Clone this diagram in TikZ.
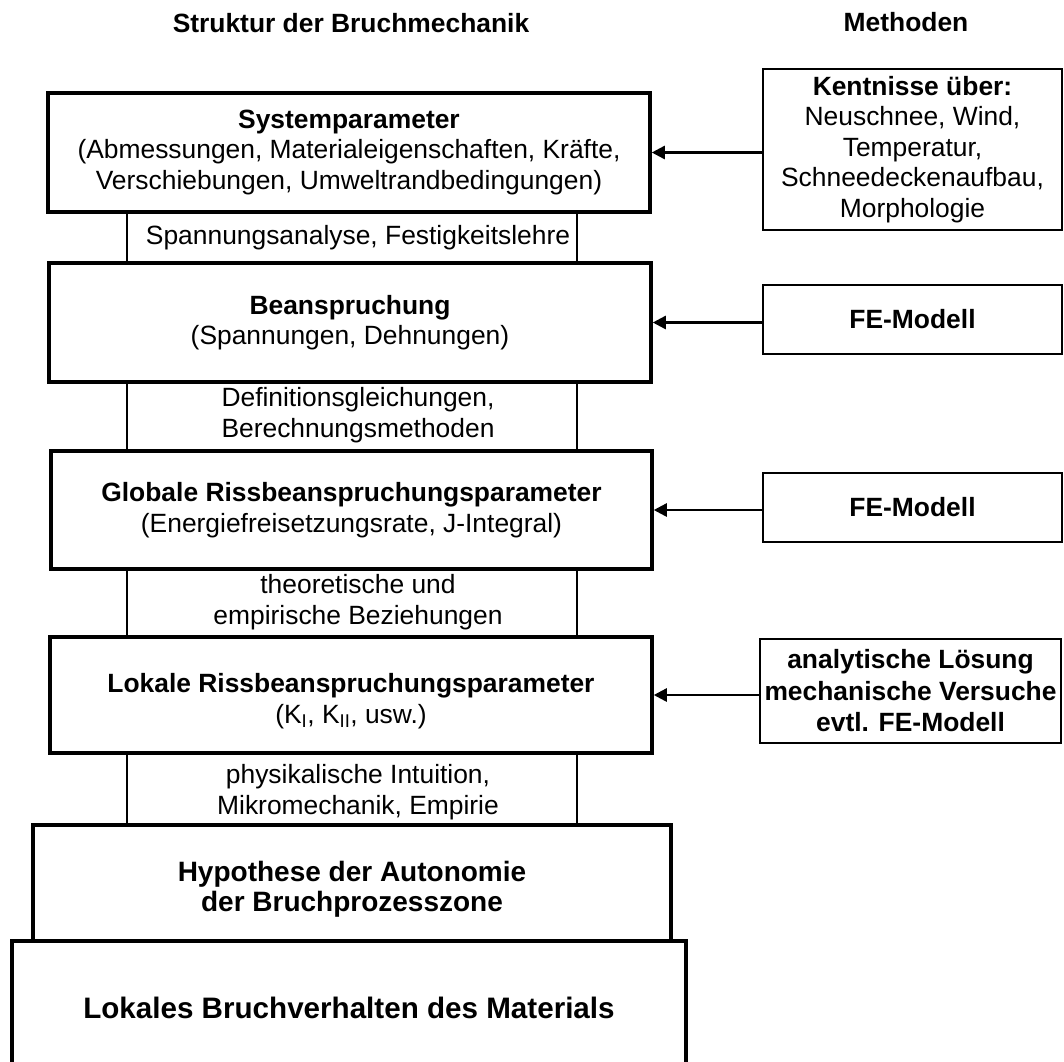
\documentclass[tikz,border=0pt]{standalone}
\usepackage{fontspec}
\setmainfont{Liberation Sans}
\usetikzlibrary{arrows.meta}
\begin{document}
\begin{tikzpicture}[x=1pt,y=-1pt,
  txt/.style={font=\fontsize{26.4}{30.5}\selectfont, align=center, inner sep=0pt},
  ttl/.style={font=\fontsize{26.4}{30.5}\selectfont\bfseries, inner sep=0pt},
  lbox/.style={draw, line width=3.5pt, inner sep=0pt, align=center, font=\fontsize{26.4}{30.5}\selectfont},
  rbox/.style={draw, line width=2.3pt, inner sep=0pt, align=center, font=\fontsize{26.4}{30.5}\selectfont},
  conn/.style={line width=1.3pt},
  arr/.style={line width=2.5pt, -{Triangle[length=13pt,width=13pt]}}]
\useasboundingbox (0,0) rectangle (1064,1061);
\fill[white] (0,0) rectangle (1064,1061);
\clip (0,0) rectangle (1064,1061);

% titles
\node[ttl, anchor=base] (t1) at (351,32) {Struktur der Bruchmechanik};
\node[ttl, anchor=base] (t2) at (906,31) {Methoden};

% left column
\node[lbox, minimum width=602pt, minimum height=119pt] (B1) at (349,152.5)
  {\textbf{Systemparameter}\\(Abmessungen, Materialeigenschaften, Kräfte,\\Verschiebungen, Umweltrandbedingungen)};
\node[lbox, minimum width=602pt, minimum height=119pt] (B2) at (350,322.5)
  {\textbf{Beanspruchung}\\(Spannungen, Dehnungen)};
\node[lbox, minimum width=601pt, minimum height=118pt] (B3) at (351.5,510)
  {\textbf{Globale Rissbeanspruchungsparameter}\\(Energiefreisetzungsrate, J-Integral)};
\node[lbox, minimum width=602pt, minimum height=116pt] (B4) at (351,695) {};
\node[txt] (B4t) at (351,701)
  {\textbf{Lokale Rissbeanspruchungsparameter}\\(K\textsubscript{I}, K\textsubscript{II}, usw.)};
\node[lbox, minimum width=638pt, minimum height=116pt] (B5) at (352,883) {};
\node[txt, font=\fontsize{28}{30}\selectfont\bfseries] (B5t) at (352,889)
  {Hypothese der Autonomie\\der Bruchprozesszone};
\node[lbox, minimum width=674pt, minimum height=134pt, font=\fontsize{29.6}{32}\selectfont\bfseries] (B6) at (349,1008)
  {Lokales Bruchverhalten des Materials};

% labels between boxes
\node[txt] (l1) at (358,238) {Spannungsanalyse, Festigkeitslehre};
\node[txt] (l2) at (358,415) {Definitionsgleichungen,\\Berechnungsmethoden};
\node[txt] (l3) at (358,602) {theoretische und\\empirische Beziehungen};
\node[txt] (l4) at (358,792) {physikalische Intuition,\\Mikromechanik, Empirie};

% connectors between boxes
\coordinate (cl) at (127,0);
\coordinate (cr) at (577,0);
\foreach \a/\b in {B1/B2,B2/B3,B3/B4,B4/B5}{
  \draw[conn] (\a.south -| cl) -- (\b.north -| cl);
  \draw[conn] (\a.south -| cr) -- (\b.north -| cr);
}

% right column
\node[rbox, minimum width=299pt, minimum height=161pt] (R1) at (912.5,149.5)
  {\textbf{Kentnisse über:}\\Neuschnee, Wind,\\Temperatur,\\Schneedeckenaufbau,\\Morphologie};
\node[rbox, minimum width=299pt, minimum height=69pt, font=\fontsize{26.4}{30.5}\selectfont\bfseries] (R2) at (912.5,319.5) {FE-Modell};
\node[rbox, minimum width=299pt, minimum height=69pt, font=\fontsize{26.4}{30.5}\selectfont\bfseries] (R3) at (912.5,507.5) {FE-Modell};
\node[rbox, minimum width=301pt, minimum height=104pt, font=\fontsize{26.4}{31.5}\selectfont\bfseries] (R4) at (910.5,691)
  {analytische Lösung\\mechanische Versuche\\evtl. FE-Modell};

% arrows
\draw[arr] (R1.west |- B1.east) -- (B1.east);
\draw[arr] (R2.west |- B2.east) -- (B2.east);
\draw[arr] (R3.west |- B3.east) -- (B3.east);
\draw[arr] (R4.west |- B4.east) -- (B4.east);
\end{tikzpicture}
\end{document}
